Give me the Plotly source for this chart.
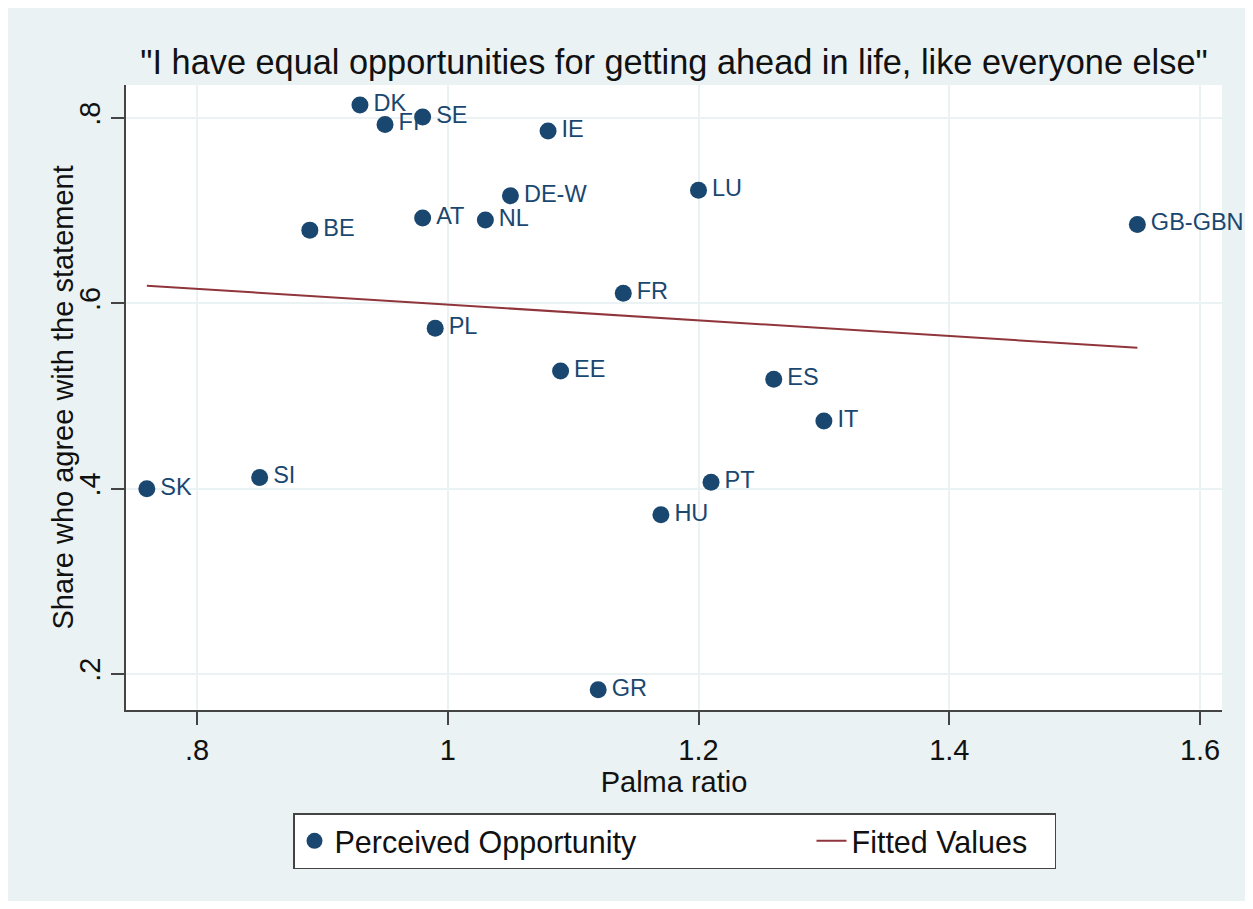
import plotly.graph_objects as go

# ---------------- data ----------------
countries = ["DK", "FI", "SE", "IE", "DE-W", "LU", "AT", "NL", "BE", "GB-GBN",
             "FR", "PL", "EE", "ES", "IT", "SK", "SI", "PT", "HU", "GR"]
palma = [0.93, 0.95, 0.98, 1.08, 1.05, 1.20, 0.98, 1.03, 0.89, 1.55,
         1.14, 0.99, 1.09, 1.26, 1.30, 0.76, 0.85, 1.21, 1.17, 1.12]
share = [0.814, 0.793, 0.801, 0.786, 0.716, 0.722, 0.692, 0.690, 0.679, 0.685,
         0.611, 0.573, 0.527, 0.518, 0.473, 0.400, 0.412, 0.407, 0.372, 0.183]

fit_x = [0.76, 1.55]
fit_y = [0.619, 0.552]

x_tickvals = [0.8, 1.0, 1.2, 1.4, 1.6]
x_ticktext = [".8", "1", "1.2", "1.4", "1.6"]
y_tickvals = [0.2, 0.4, 0.6, 0.8]
y_ticktext = [".2", ".4", ".6", ".8"]

title_text = '"I have equal opportunities for getting ahead in life, like everyone else"'
x_title = "Palma ratio"
y_title = "Share who agree with the statement"

# ---------------- style ----------------
W, H = 1237, 893          # page body margin (8px) supplies the white border
ML, MR, MT, MB = 118, 23, 77, 191
PW, PH = W - ML - MR, H - MT - MB
BG = "#EAF2F3"
NAVY = "#1A476F"
MAROON = "#90353B"
AXIS = "#444444"
TXT = "#111111"
FONT = "Liberation Sans, Arial, sans-serif"


def px_x(p):
    return (p - ML) / PW


def px_y(p):
    return (H - MB - p) / PH


fig = go.Figure()

# labels (drawn first so markers sit on top); invisible markers set the offset
fig.add_trace(go.Scatter(
    x=palma, y=share, text=countries, mode="markers+text",
    textposition="middle right",
    marker=dict(size=20, opacity=0),
    textfont=dict(size=23.5, color=NAVY, family=FONT),
    showlegend=False, hoverinfo="skip", cliponaxis=False,
))

fig.add_trace(go.Scatter(
    x=palma, y=share, mode="markers", name="Perceived Opportunity",
    marker=dict(size=17, color=NAVY),
    legendwidth=472, cliponaxis=False,
))

fig.add_trace(go.Scatter(
    x=fit_x, y=fit_y, mode="lines", name="Fitted Values",
    line=dict(color=MAROON, width=2),
    legendwidth=198,
))

axis_common = dict(
    showline=True, linecolor=AXIS, linewidth=1.5,
    ticks="outside", ticklen=13, tickwidth=1.5, tickcolor=AXIS,
    showgrid=True, gridcolor=BG, gridwidth=1.5,
    zeroline=False, mirror=False,
    tickfont=dict(size=29, color=TXT, family=FONT),
)

fig.update_xaxes(
    range=[0.7434, 1.6175], tickvals=x_tickvals, ticktext=x_ticktext,
    title=dict(text=x_title, font=dict(size=29, color=TXT, family=FONT), standoff=3),
    **axis_common,
)
fig.update_yaxes(
    range=[0.1612, 0.8356], tickvals=y_tickvals, ticktext=y_ticktext, tickangle=-90,
    **axis_common,
)

fig.update_layout(
    width=W, height=H,
    margin=dict(l=ML, r=MR, t=MT, b=MB, autoexpand=False),
    paper_bgcolor=BG, plot_bgcolor="white",
    font=dict(family=FONT, color=TXT),
    title=dict(text=title_text, x=0.5, xref="paper", xanchor="center",
               y=1 - 54 / H, yref="container", yanchor="middle",
               font=dict(size=34.3, color=TXT, family=FONT)),
    legend=dict(
        orientation="h", x=px_x(285), xanchor="left", y=px_y(805), yanchor="top",
        bgcolor="white", bordercolor=AXIS, borderwidth=1.5,
        font=dict(size=30.5, color=TXT, family=FONT),
        itemwidth=30,
    ),
    annotations=[
        dict(text=y_title, xref="paper", yref="paper", x=px_x(54), y=0.5,
             xanchor="center", yanchor="middle", textangle=-90, showarrow=False,
             font=dict(size=29, color=TXT, family=FONT)),
    ],
)

fig.write_html("out.html")
